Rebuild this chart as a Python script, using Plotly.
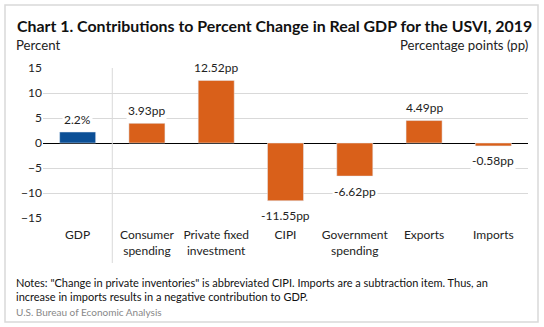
import plotly.graph_objects as go

categories = ["GDP", "Consumer<br>spending", "Private fixed<br>investment", "CIPI",
              "Government<br>spending", "Exports", "Imports"]
values = [2.2, 3.93, 12.52, -11.55, -6.62, 4.49, -0.58]
units = ["%", "pp", "pp", "pp", "pp", "pp", "pp"]
colors = ["#0b4f96", "#d9601a", "#d9601a", "#d9601a", "#d9601a", "#d9601a", "#d9601a"]
ytick_vals = [15, 10, 5, 0, -5, -10, -15]

FONT = "Lato"
W, H = 544, 327
L, R, T, B = 43, 16, 68, 109
pw, ph = W - L - R, H - T - B

def px_x(x):
    return (x - L) / pw

def px_y(y):
    return (H - B - y) / ph

xs = list(range(len(categories)))
fig = go.Figure(go.Bar(x=xs, y=values, marker_color=colors, width=0.52,
                       hoverinfo="skip"))

annotations = []
for i, v in enumerate(values):
    txt = (f"{v:g}" if units[i] == "%" else f"{v:.2f}") + units[i]
    annotations.append(dict(x=i, y=v, xref="x", yref="y", text=txt, showarrow=False,
                            yshift=13 if v >= 0 else -15, bgcolor="white",
                            font=dict(family=FONT, size=12, color="#222")))

annotations += [
    dict(xref="paper", yref="paper", x=px_x(15), y=px_y(25), xanchor="left", yanchor="middle",
         text="<b>Chart 1. Contributions to Percent Change in Real GDP for the USVI, 2019</b>",
         showarrow=False, font=dict(family=FONT, size=15.9, color="#111")),
    dict(xref="paper", yref="paper", x=px_x(14), y=px_y(45), xanchor="left", yanchor="middle",
         text="Percent", showarrow=False, font=dict(family=FONT, size=13.2, color="#222")),
    dict(xref="paper", yref="paper", x=px_x(530), y=px_y(45), xanchor="right", yanchor="middle",
         text="Percentage points (pp)", showarrow=False, font=dict(family=FONT, size=13.2, color="#222")),
    dict(xref="paper", yref="paper", x=px_x(14), y=px_y(289), xanchor="left", yanchor="middle",
         align="left",
         text="Notes: \"Change in private inventories\" is abbreviated CIPI. Imports are a subtraction item. Thus, an<br>increase in imports results in a negative contribution to GDP.",
         showarrow=False, font=dict(family=FONT, size=11, color="#111")),
    dict(xref="paper", yref="paper", x=px_x(14), y=px_y(312), xanchor="left", yanchor="middle",
         text="U.S. Bureau of Economic Analysis", showarrow=False,
         font=dict(family=FONT, size=10, color="#888")),
]

shapes = [
    dict(type="rect", xref="paper", yref="paper", x0=px_x(5), x1=px_x(538), y0=px_y(322), y1=px_y(5),
         line=dict(color="#d9d9d9", width=1.5), layer="below"),
    dict(type="line", xref="x", yref="paper", x0=0.5, x1=0.5, y0=px_y(263), y1=1,
         line=dict(color="#d9d9d9", width=1)),
]

fig.update_layout(
    width=W, height=H, margin=dict(l=L, r=R, t=T, b=B, pad=0),
    paper_bgcolor="white", plot_bgcolor="white", showlegend=False,
    annotations=annotations, shapes=shapes,
    xaxis=dict(tickvals=xs, ticktext=categories, range=[-0.5, len(categories) - 0.5],
               showgrid=False, showline=False, zeroline=False, ticks="",
               tickfont=dict(family=FONT, size=12, color="#222"), ticklabelstandoff=8),
    yaxis=dict(range=[-15, 15], tickvals=ytick_vals, showgrid=True, gridcolor="#d9d9d9",
               gridwidth=1, zeroline=True, zerolinecolor="#000", zerolinewidth=1.2,
               showline=False, ticks="", tickfont=dict(family=FONT, size=12, color="#222")),
)

fig.write_html("out.html")
